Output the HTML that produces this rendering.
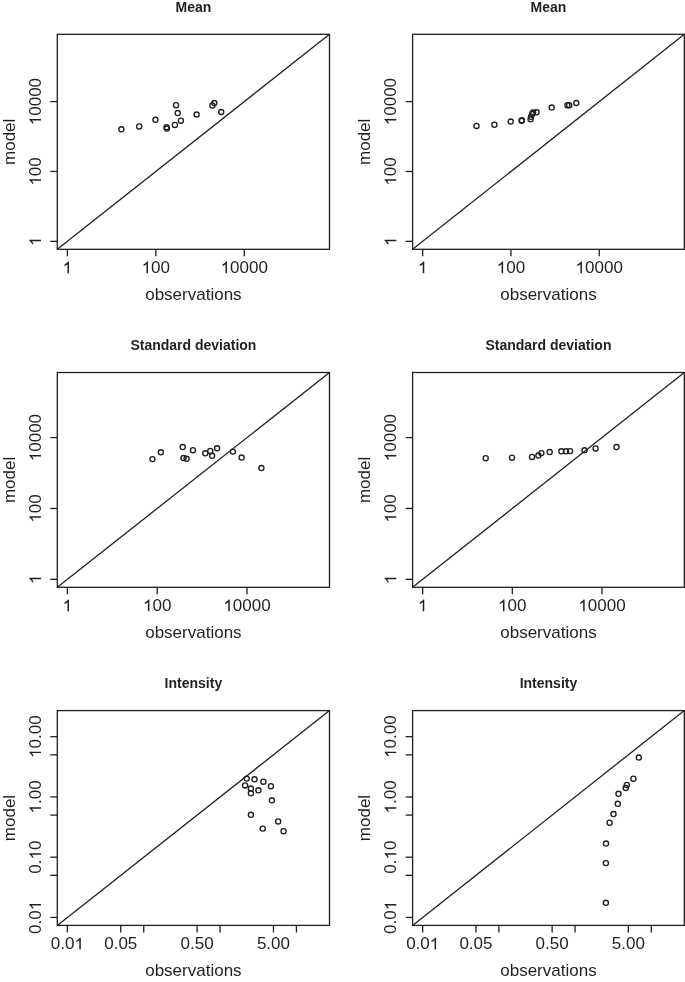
<!DOCTYPE html>
<html><head><meta charset="utf-8"><style>
html,body{margin:0;padding:0;background:#fff;}
svg{display:block;will-change:transform;}
.ln{fill:none;stroke:#231f20;stroke-width:1.3;}
.pt{fill:none;stroke:#231f20;stroke-width:1.35;}
text{font-family:"Liberation Sans",sans-serif;fill:#231f20;}
.tl{font-size:17px;}
.gl{fill:#231f20;stroke:none;}
.tt{font-size:14px;font-weight:bold;}
</style></head><body>
<svg width="685" height="982" viewBox="0 0 685 982">
<rect x="57.3" y="34.3" width="272.2" height="215" class="ln"/>
<line x1="57.3" y1="249.3" x2="329.5" y2="34.3" class="ln"/>
<line x1="67.38" y1="249.3" x2="67.38" y2="256.3" class="ln"/>
<g transform="translate(67.38,273.30)"><text x="-4.73" y="0" class="tl"> </text><path d="M763 0L583 0L583 1100Q518 1040 412 980Q306 922 221 890L221 1060Q372 1130 485 1230Q598 1330 645 1409L763 1409Z" transform="translate(-4.73,0) scale(0.00830,-0.00830)" class="gl"/></g>
<line x1="155.83" y1="249.3" x2="155.83" y2="256.3" class="ln"/>
<g transform="translate(155.83,273.30)"><text x="-14.18" y="0" class="tl"> 00</text><path d="M763 0L583 0L583 1100Q518 1040 412 980Q306 922 221 890L221 1060Q372 1130 485 1230Q598 1330 645 1409L763 1409Z" transform="translate(-14.18,0) scale(0.00830,-0.00830)" class="gl"/></g>
<line x1="244.28" y1="249.3" x2="244.28" y2="256.3" class="ln"/>
<g transform="translate(244.28,273.30)"><text x="-23.64" y="0" class="tl"> 0000</text><path d="M763 0L583 0L583 1100Q518 1040 412 980Q306 922 221 890L221 1060Q372 1130 485 1230Q598 1330 645 1409L763 1409Z" transform="translate(-23.64,0) scale(0.00830,-0.00830)" class="gl"/></g>
<line x1="57.3" y1="241.34" x2="50.3" y2="241.34" class="ln"/>
<g transform="translate(41.00,241.34) rotate(-90)"><text x="-4.73" y="0" class="tl"> </text><path d="M763 0L583 0L583 1100Q518 1040 412 980Q306 922 221 890L221 1060Q372 1130 485 1230Q598 1330 645 1409L763 1409Z" transform="translate(-4.73,0) scale(0.00830,-0.00830)" class="gl"/></g>
<line x1="57.3" y1="171.47" x2="50.3" y2="171.47" class="ln"/>
<g transform="translate(41.00,171.47) rotate(-90)"><text x="-14.18" y="0" class="tl"> 00</text><path d="M763 0L583 0L583 1100Q518 1040 412 980Q306 922 221 890L221 1060Q372 1130 485 1230Q598 1330 645 1409L763 1409Z" transform="translate(-14.18,0) scale(0.00830,-0.00830)" class="gl"/></g>
<line x1="57.3" y1="101.61" x2="50.3" y2="101.61" class="ln"/>
<g transform="translate(41.00,101.61) rotate(-90)"><text x="-23.64" y="0" class="tl"> 0000</text><path d="M763 0L583 0L583 1100Q518 1040 412 980Q306 922 221 890L221 1060Q372 1130 485 1230Q598 1330 645 1409L763 1409Z" transform="translate(-23.64,0) scale(0.00830,-0.00830)" class="gl"/></g>
<circle cx="121.4" cy="129.3" r="2.55" class="pt"/>
<circle cx="139.2" cy="126.4" r="2.55" class="pt"/>
<circle cx="155.5" cy="119.8" r="2.55" class="pt"/>
<circle cx="166.5" cy="127.2" r="2.55" class="pt"/>
<circle cx="166.9" cy="128.5" r="2.55" class="pt"/>
<circle cx="174.9" cy="124.9" r="2.55" class="pt"/>
<circle cx="176.0" cy="105.2" r="2.55" class="pt"/>
<circle cx="177.7" cy="113.1" r="2.55" class="pt"/>
<circle cx="180.9" cy="120.7" r="2.55" class="pt"/>
<circle cx="196.6" cy="114.5" r="2.55" class="pt"/>
<circle cx="212.4" cy="105.4" r="2.55" class="pt"/>
<circle cx="214.3" cy="103.0" r="2.55" class="pt"/>
<circle cx="221.2" cy="112.0" r="2.55" class="pt"/>
<text x="193.4" y="11.5" class="tt" text-anchor="middle">Mean</text>
<text x="193.4" y="300.1" class="tl" text-anchor="middle">observations</text>
<text transform="translate(14.9,141.8) rotate(-90)" class="tl" text-anchor="middle">model</text>
<rect x="412.6" y="34.3" width="271.7" height="215" class="ln"/>
<line x1="412.6" y1="249.3" x2="684.3" y2="34.3" class="ln"/>
<line x1="422.66" y1="249.3" x2="422.66" y2="256.3" class="ln"/>
<g transform="translate(422.66,273.30)"><text x="-4.73" y="0" class="tl"> </text><path d="M763 0L583 0L583 1100Q518 1040 412 980Q306 922 221 890L221 1060Q372 1130 485 1230Q598 1330 645 1409L763 1409Z" transform="translate(-4.73,0) scale(0.00830,-0.00830)" class="gl"/></g>
<line x1="510.95" y1="249.3" x2="510.95" y2="256.3" class="ln"/>
<g transform="translate(510.95,273.30)"><text x="-14.18" y="0" class="tl"> 00</text><path d="M763 0L583 0L583 1100Q518 1040 412 980Q306 922 221 890L221 1060Q372 1130 485 1230Q598 1330 645 1409L763 1409Z" transform="translate(-14.18,0) scale(0.00830,-0.00830)" class="gl"/></g>
<line x1="599.24" y1="249.3" x2="599.24" y2="256.3" class="ln"/>
<g transform="translate(599.24,273.30)"><text x="-23.64" y="0" class="tl"> 0000</text><path d="M763 0L583 0L583 1100Q518 1040 412 980Q306 922 221 890L221 1060Q372 1130 485 1230Q598 1330 645 1409L763 1409Z" transform="translate(-23.64,0) scale(0.00830,-0.00830)" class="gl"/></g>
<line x1="412.6" y1="241.34" x2="405.6" y2="241.34" class="ln"/>
<g transform="translate(396.30,241.34) rotate(-90)"><text x="-4.73" y="0" class="tl"> </text><path d="M763 0L583 0L583 1100Q518 1040 412 980Q306 922 221 890L221 1060Q372 1130 485 1230Q598 1330 645 1409L763 1409Z" transform="translate(-4.73,0) scale(0.00830,-0.00830)" class="gl"/></g>
<line x1="412.6" y1="171.47" x2="405.6" y2="171.47" class="ln"/>
<g transform="translate(396.30,171.47) rotate(-90)"><text x="-14.18" y="0" class="tl"> 00</text><path d="M763 0L583 0L583 1100Q518 1040 412 980Q306 922 221 890L221 1060Q372 1130 485 1230Q598 1330 645 1409L763 1409Z" transform="translate(-14.18,0) scale(0.00830,-0.00830)" class="gl"/></g>
<line x1="412.6" y1="101.61" x2="405.6" y2="101.61" class="ln"/>
<g transform="translate(396.30,101.61) rotate(-90)"><text x="-23.64" y="0" class="tl"> 0000</text><path d="M763 0L583 0L583 1100Q518 1040 412 980Q306 922 221 890L221 1060Q372 1130 485 1230Q598 1330 645 1409L763 1409Z" transform="translate(-23.64,0) scale(0.00830,-0.00830)" class="gl"/></g>
<circle cx="476.5" cy="125.9" r="2.55" class="pt"/>
<circle cx="494.4" cy="124.7" r="2.55" class="pt"/>
<circle cx="510.7" cy="121.6" r="2.55" class="pt"/>
<circle cx="521.6" cy="120.8" r="2.55" class="pt"/>
<circle cx="521.9" cy="120.3" r="2.55" class="pt"/>
<circle cx="530.6" cy="119.3" r="2.55" class="pt"/>
<circle cx="531.0" cy="116.8" r="2.55" class="pt"/>
<circle cx="532.2" cy="114.0" r="2.55" class="pt"/>
<circle cx="533.0" cy="112.6" r="2.55" class="pt"/>
<circle cx="536.5" cy="112.3" r="2.55" class="pt"/>
<circle cx="551.7" cy="107.6" r="2.55" class="pt"/>
<circle cx="567.4" cy="105.2" r="2.55" class="pt"/>
<circle cx="569.2" cy="105.2" r="2.55" class="pt"/>
<circle cx="576.3" cy="103.0" r="2.55" class="pt"/>
<text x="548.45" y="11.5" class="tt" text-anchor="middle">Mean</text>
<text x="548.45" y="300.1" class="tl" text-anchor="middle">observations</text>
<text transform="translate(370.2,141.8) rotate(-90)" class="tl" text-anchor="middle">model</text>
<rect x="57.3" y="372.5" width="272.2" height="214.8" class="ln"/>
<line x1="57.3" y1="587.3" x2="329.5" y2="372.5" class="ln"/>
<line x1="67.38" y1="587.3" x2="67.38" y2="594.3" class="ln"/>
<g transform="translate(67.38,611.30)"><text x="-4.73" y="0" class="tl"> </text><path d="M763 0L583 0L583 1100Q518 1040 412 980Q306 922 221 890L221 1060Q372 1130 485 1230Q598 1330 645 1409L763 1409Z" transform="translate(-4.73,0) scale(0.00830,-0.00830)" class="gl"/></g>
<line x1="157.2" y1="587.3" x2="157.2" y2="594.3" class="ln"/>
<g transform="translate(157.20,611.30)"><text x="-14.18" y="0" class="tl"> 00</text><path d="M763 0L583 0L583 1100Q518 1040 412 980Q306 922 221 890L221 1060Q372 1130 485 1230Q598 1330 645 1409L763 1409Z" transform="translate(-14.18,0) scale(0.00830,-0.00830)" class="gl"/></g>
<line x1="247.02" y1="587.3" x2="247.02" y2="594.3" class="ln"/>
<g transform="translate(247.02,611.30)"><text x="-23.64" y="0" class="tl"> 0000</text><path d="M763 0L583 0L583 1100Q518 1040 412 980Q306 922 221 890L221 1060Q372 1130 485 1230Q598 1330 645 1409L763 1409Z" transform="translate(-23.64,0) scale(0.00830,-0.00830)" class="gl"/></g>
<line x1="57.3" y1="579.34" x2="50.3" y2="579.34" class="ln"/>
<g transform="translate(41.00,579.34) rotate(-90)"><text x="-4.73" y="0" class="tl"> </text><path d="M763 0L583 0L583 1100Q518 1040 412 980Q306 922 221 890L221 1060Q372 1130 485 1230Q598 1330 645 1409L763 1409Z" transform="translate(-4.73,0) scale(0.00830,-0.00830)" class="gl"/></g>
<line x1="57.3" y1="508.46" x2="50.3" y2="508.46" class="ln"/>
<g transform="translate(41.00,508.46) rotate(-90)"><text x="-14.18" y="0" class="tl"> 00</text><path d="M763 0L583 0L583 1100Q518 1040 412 980Q306 922 221 890L221 1060Q372 1130 485 1230Q598 1330 645 1409L763 1409Z" transform="translate(-14.18,0) scale(0.00830,-0.00830)" class="gl"/></g>
<line x1="57.3" y1="437.58" x2="50.3" y2="437.58" class="ln"/>
<g transform="translate(41.00,437.58) rotate(-90)"><text x="-23.64" y="0" class="tl"> 0000</text><path d="M763 0L583 0L583 1100Q518 1040 412 980Q306 922 221 890L221 1060Q372 1130 485 1230Q598 1330 645 1409L763 1409Z" transform="translate(-23.64,0) scale(0.00830,-0.00830)" class="gl"/></g>
<circle cx="152.4" cy="459.1" r="2.55" class="pt"/>
<circle cx="160.8" cy="452.3" r="2.55" class="pt"/>
<circle cx="182.7" cy="447.0" r="2.55" class="pt"/>
<circle cx="183.5" cy="458.0" r="2.55" class="pt"/>
<circle cx="186.6" cy="458.8" r="2.55" class="pt"/>
<circle cx="193.0" cy="450.2" r="2.55" class="pt"/>
<circle cx="205.3" cy="453.3" r="2.55" class="pt"/>
<circle cx="210.3" cy="450.9" r="2.55" class="pt"/>
<circle cx="212.1" cy="455.8" r="2.55" class="pt"/>
<circle cx="217.1" cy="448.3" r="2.55" class="pt"/>
<circle cx="232.9" cy="451.6" r="2.55" class="pt"/>
<circle cx="241.6" cy="457.5" r="2.55" class="pt"/>
<circle cx="261.4" cy="468.0" r="2.55" class="pt"/>
<text x="193.4" y="349.7" class="tt" text-anchor="middle">Standard deviation</text>
<text x="193.4" y="638.1" class="tl" text-anchor="middle">observations</text>
<text transform="translate(14.9,479.9) rotate(-90)" class="tl" text-anchor="middle">model</text>
<rect x="412.6" y="372.5" width="271.7" height="214.8" class="ln"/>
<line x1="412.6" y1="587.3" x2="684.3" y2="372.5" class="ln"/>
<line x1="422.66" y1="587.3" x2="422.66" y2="594.3" class="ln"/>
<g transform="translate(422.66,611.30)"><text x="-4.73" y="0" class="tl"> </text><path d="M763 0L583 0L583 1100Q518 1040 412 980Q306 922 221 890L221 1060Q372 1130 485 1230Q598 1330 645 1409L763 1409Z" transform="translate(-4.73,0) scale(0.00830,-0.00830)" class="gl"/></g>
<line x1="512.32" y1="587.3" x2="512.32" y2="594.3" class="ln"/>
<g transform="translate(512.32,611.30)"><text x="-14.18" y="0" class="tl"> 00</text><path d="M763 0L583 0L583 1100Q518 1040 412 980Q306 922 221 890L221 1060Q372 1130 485 1230Q598 1330 645 1409L763 1409Z" transform="translate(-14.18,0) scale(0.00830,-0.00830)" class="gl"/></g>
<line x1="601.97" y1="587.3" x2="601.97" y2="594.3" class="ln"/>
<g transform="translate(601.97,611.30)"><text x="-23.64" y="0" class="tl"> 0000</text><path d="M763 0L583 0L583 1100Q518 1040 412 980Q306 922 221 890L221 1060Q372 1130 485 1230Q598 1330 645 1409L763 1409Z" transform="translate(-23.64,0) scale(0.00830,-0.00830)" class="gl"/></g>
<line x1="412.6" y1="579.34" x2="405.6" y2="579.34" class="ln"/>
<g transform="translate(396.30,579.34) rotate(-90)"><text x="-4.73" y="0" class="tl"> </text><path d="M763 0L583 0L583 1100Q518 1040 412 980Q306 922 221 890L221 1060Q372 1130 485 1230Q598 1330 645 1409L763 1409Z" transform="translate(-4.73,0) scale(0.00830,-0.00830)" class="gl"/></g>
<line x1="412.6" y1="508.46" x2="405.6" y2="508.46" class="ln"/>
<g transform="translate(396.30,508.46) rotate(-90)"><text x="-14.18" y="0" class="tl"> 00</text><path d="M763 0L583 0L583 1100Q518 1040 412 980Q306 922 221 890L221 1060Q372 1130 485 1230Q598 1330 645 1409L763 1409Z" transform="translate(-14.18,0) scale(0.00830,-0.00830)" class="gl"/></g>
<line x1="412.6" y1="437.58" x2="405.6" y2="437.58" class="ln"/>
<g transform="translate(396.30,437.58) rotate(-90)"><text x="-23.64" y="0" class="tl"> 0000</text><path d="M763 0L583 0L583 1100Q518 1040 412 980Q306 922 221 890L221 1060Q372 1130 485 1230Q598 1330 645 1409L763 1409Z" transform="translate(-23.64,0) scale(0.00830,-0.00830)" class="gl"/></g>
<circle cx="485.7" cy="458.2" r="2.55" class="pt"/>
<circle cx="512.0" cy="457.7" r="2.55" class="pt"/>
<circle cx="532.0" cy="456.9" r="2.55" class="pt"/>
<circle cx="538.4" cy="455.5" r="2.55" class="pt"/>
<circle cx="541.4" cy="453.1" r="2.55" class="pt"/>
<circle cx="549.7" cy="452.0" r="2.55" class="pt"/>
<circle cx="561.4" cy="451.3" r="2.55" class="pt"/>
<circle cx="566.0" cy="451.3" r="2.55" class="pt"/>
<circle cx="570.1" cy="451.1" r="2.55" class="pt"/>
<circle cx="584.5" cy="450.3" r="2.55" class="pt"/>
<circle cx="595.6" cy="448.4" r="2.55" class="pt"/>
<circle cx="616.5" cy="447.0" r="2.55" class="pt"/>
<text x="548.45" y="349.7" class="tt" text-anchor="middle">Standard deviation</text>
<text x="548.45" y="638.1" class="tl" text-anchor="middle">observations</text>
<text transform="translate(370.2,479.9) rotate(-90)" class="tl" text-anchor="middle">model</text>
<rect x="57.3" y="710.6" width="272.2" height="214.8" class="ln"/>
<line x1="57.3" y1="925.4" x2="329.5" y2="710.6" class="ln"/>
<line x1="67.38" y1="925.4" x2="67.38" y2="932.4" class="ln"/>
<g transform="translate(67.38,949.40)"><text x="-16.54" y="0" class="tl">0.0 </text><path d="M763 0L583 0L583 1100Q518 1040 412 980Q306 922 221 890L221 1060Q372 1130 485 1230Q598 1330 645 1409L763 1409Z" transform="translate(7.09,0) scale(0.00830,-0.00830)" class="gl"/></g>
<line x1="120.75" y1="925.4" x2="120.75" y2="932.4" class="ln"/>
<g transform="translate(120.75,949.40)"><text x="-16.54" y="0" class="tl">0.05</text></g>
<line x1="143.73" y1="925.4" x2="143.73" y2="932.4" class="ln"/>
<line x1="197.1" y1="925.4" x2="197.1" y2="932.4" class="ln"/>
<g transform="translate(197.10,949.40)"><text x="-16.54" y="0" class="tl">0.50</text></g>
<line x1="220.08" y1="925.4" x2="220.08" y2="932.4" class="ln"/>
<line x1="273.45" y1="925.4" x2="273.45" y2="932.4" class="ln"/>
<g transform="translate(273.45,949.40)"><text x="-16.54" y="0" class="tl">5.00</text></g>
<line x1="296.43" y1="925.4" x2="296.43" y2="932.4" class="ln"/>
<line x1="57.3" y1="917.44" x2="50.3" y2="917.44" class="ln"/>
<g transform="translate(41.00,917.44) rotate(-90)"><text x="-16.54" y="0" class="tl">0.0 </text><path d="M763 0L583 0L583 1100Q518 1040 412 980Q306 922 221 890L221 1060Q372 1130 485 1230Q598 1330 645 1409L763 1409Z" transform="translate(7.09,0) scale(0.00830,-0.00830)" class="gl"/></g>
<line x1="57.3" y1="875.33" x2="50.3" y2="875.33" class="ln"/>
<line x1="57.3" y1="857.19" x2="50.3" y2="857.19" class="ln"/>
<g transform="translate(41.00,857.19) rotate(-90)"><text x="-16.54" y="0" class="tl">0. 0</text><path d="M763 0L583 0L583 1100Q518 1040 412 980Q306 922 221 890L221 1060Q372 1130 485 1230Q598 1330 645 1409L763 1409Z" transform="translate(-2.37,0) scale(0.00830,-0.00830)" class="gl"/></g>
<line x1="57.3" y1="815.08" x2="50.3" y2="815.08" class="ln"/>
<line x1="57.3" y1="796.94" x2="50.3" y2="796.94" class="ln"/>
<g transform="translate(41.00,796.94) rotate(-90)"><text x="-16.54" y="0" class="tl"> .00</text><path d="M763 0L583 0L583 1100Q518 1040 412 980Q306 922 221 890L221 1060Q372 1130 485 1230Q598 1330 645 1409L763 1409Z" transform="translate(-16.54,0) scale(0.00830,-0.00830)" class="gl"/></g>
<line x1="57.3" y1="754.83" x2="50.3" y2="754.83" class="ln"/>
<line x1="57.3" y1="736.69" x2="50.3" y2="736.69" class="ln"/>
<g transform="translate(41.00,736.69) rotate(-90)"><text x="-21.27" y="0" class="tl"> 0.00</text><path d="M763 0L583 0L583 1100Q518 1040 412 980Q306 922 221 890L221 1060Q372 1130 485 1230Q598 1330 645 1409L763 1409Z" transform="translate(-21.27,0) scale(0.00830,-0.00830)" class="gl"/></g>
<circle cx="246.7" cy="778.6" r="2.55" class="pt"/>
<circle cx="254.5" cy="779.3" r="2.55" class="pt"/>
<circle cx="263.4" cy="781.7" r="2.55" class="pt"/>
<circle cx="270.9" cy="786.2" r="2.55" class="pt"/>
<circle cx="245.1" cy="785.4" r="2.55" class="pt"/>
<circle cx="250.9" cy="788.5" r="2.55" class="pt"/>
<circle cx="250.9" cy="793.3" r="2.55" class="pt"/>
<circle cx="258.4" cy="790.3" r="2.55" class="pt"/>
<circle cx="271.9" cy="800.3" r="2.55" class="pt"/>
<circle cx="250.9" cy="814.8" r="2.55" class="pt"/>
<circle cx="278.2" cy="821.4" r="2.55" class="pt"/>
<circle cx="262.7" cy="828.6" r="2.55" class="pt"/>
<circle cx="283.6" cy="831.2" r="2.55" class="pt"/>
<text x="193.4" y="687.8" class="tt" text-anchor="middle">Intensity</text>
<text x="193.4" y="976.2" class="tl" text-anchor="middle">observations</text>
<text transform="translate(14.9,818) rotate(-90)" class="tl" text-anchor="middle">model</text>
<rect x="412.6" y="710.6" width="271.7" height="214.8" class="ln"/>
<line x1="412.6" y1="925.4" x2="684.3" y2="710.6" class="ln"/>
<line x1="422.66" y1="925.4" x2="422.66" y2="932.4" class="ln"/>
<g transform="translate(422.66,949.40)"><text x="-16.54" y="0" class="tl">0.0 </text><path d="M763 0L583 0L583 1100Q518 1040 412 980Q306 922 221 890L221 1060Q372 1130 485 1230Q598 1330 645 1409L763 1409Z" transform="translate(7.09,0) scale(0.00830,-0.00830)" class="gl"/></g>
<line x1="475.93" y1="925.4" x2="475.93" y2="932.4" class="ln"/>
<g transform="translate(475.93,949.40)"><text x="-16.54" y="0" class="tl">0.05</text></g>
<line x1="498.87" y1="925.4" x2="498.87" y2="932.4" class="ln"/>
<line x1="552.14" y1="925.4" x2="552.14" y2="932.4" class="ln"/>
<g transform="translate(552.14,949.40)"><text x="-16.54" y="0" class="tl">0.50</text></g>
<line x1="575.08" y1="925.4" x2="575.08" y2="932.4" class="ln"/>
<line x1="628.35" y1="925.4" x2="628.35" y2="932.4" class="ln"/>
<g transform="translate(628.35,949.40)"><text x="-16.54" y="0" class="tl">5.00</text></g>
<line x1="651.3" y1="925.4" x2="651.3" y2="932.4" class="ln"/>
<line x1="412.6" y1="917.44" x2="405.6" y2="917.44" class="ln"/>
<g transform="translate(396.30,917.44) rotate(-90)"><text x="-16.54" y="0" class="tl">0.0 </text><path d="M763 0L583 0L583 1100Q518 1040 412 980Q306 922 221 890L221 1060Q372 1130 485 1230Q598 1330 645 1409L763 1409Z" transform="translate(7.09,0) scale(0.00830,-0.00830)" class="gl"/></g>
<line x1="412.6" y1="875.33" x2="405.6" y2="875.33" class="ln"/>
<line x1="412.6" y1="857.19" x2="405.6" y2="857.19" class="ln"/>
<g transform="translate(396.30,857.19) rotate(-90)"><text x="-16.54" y="0" class="tl">0. 0</text><path d="M763 0L583 0L583 1100Q518 1040 412 980Q306 922 221 890L221 1060Q372 1130 485 1230Q598 1330 645 1409L763 1409Z" transform="translate(-2.37,0) scale(0.00830,-0.00830)" class="gl"/></g>
<line x1="412.6" y1="815.08" x2="405.6" y2="815.08" class="ln"/>
<line x1="412.6" y1="796.94" x2="405.6" y2="796.94" class="ln"/>
<g transform="translate(396.30,796.94) rotate(-90)"><text x="-16.54" y="0" class="tl"> .00</text><path d="M763 0L583 0L583 1100Q518 1040 412 980Q306 922 221 890L221 1060Q372 1130 485 1230Q598 1330 645 1409L763 1409Z" transform="translate(-16.54,0) scale(0.00830,-0.00830)" class="gl"/></g>
<line x1="412.6" y1="754.83" x2="405.6" y2="754.83" class="ln"/>
<line x1="412.6" y1="736.69" x2="405.6" y2="736.69" class="ln"/>
<g transform="translate(396.30,736.69) rotate(-90)"><text x="-21.27" y="0" class="tl"> 0.00</text><path d="M763 0L583 0L583 1100Q518 1040 412 980Q306 922 221 890L221 1060Q372 1130 485 1230Q598 1330 645 1409L763 1409Z" transform="translate(-21.27,0) scale(0.00830,-0.00830)" class="gl"/></g>
<circle cx="638.8" cy="757.5" r="2.55" class="pt"/>
<circle cx="633.4" cy="778.7" r="2.55" class="pt"/>
<circle cx="626.8" cy="784.9" r="2.55" class="pt"/>
<circle cx="625.7" cy="787.9" r="2.55" class="pt"/>
<circle cx="618.5" cy="793.8" r="2.55" class="pt"/>
<circle cx="617.8" cy="803.8" r="2.55" class="pt"/>
<circle cx="613.5" cy="814.0" r="2.55" class="pt"/>
<circle cx="609.6" cy="822.7" r="2.55" class="pt"/>
<circle cx="606.0" cy="843.5" r="2.55" class="pt"/>
<circle cx="605.9" cy="863.1" r="2.55" class="pt"/>
<circle cx="605.9" cy="902.8" r="2.55" class="pt"/>
<text x="548.45" y="687.8" class="tt" text-anchor="middle">Intensity</text>
<text x="548.45" y="976.2" class="tl" text-anchor="middle">observations</text>
<text transform="translate(370.2,818) rotate(-90)" class="tl" text-anchor="middle">model</text>
</svg>
</body></html>
